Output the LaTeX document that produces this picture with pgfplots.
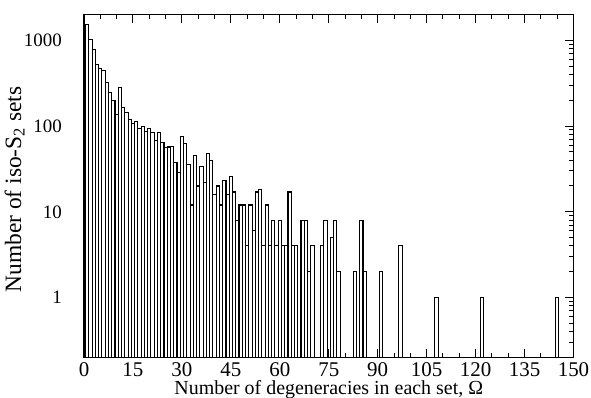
\documentclass[border=0pt]{standalone}
\usepackage{fontspec}
\setmainfont{Liberation Serif}
\usepackage{pgfplots}
\pgfplotsset{compat=1.18}
\begin{document}
\begin{tikzpicture}
\path[use as bounding box] (-84bp,-40.5bp) rectangle (507bp,357.5bp);
\begin{axis}[
  at={(0,0)}, anchor=south west,
  scale only axis, width=489.5bp, height=343bp,
  xmin=0, xmax=150, ymin=0.2, ymax=2000,
  ymode=log, log origin=infty,
  xtick={0,15,...,150}, minor x tick num=2,
  ytick={1,10,100,1000}, yticklabels={1,10,100,1000},
  minor ytick={0.2,0.3,0.4,0.5,0.6,0.7,0.8,0.9,2,3,4,5,6,7,8,9,20,30,40,50,60,70,80,90,200,300,400,500,600,700,800,900},
  tick align=inside, major tick length=9bp, minor tick length=4.5bp,
  axis line style={line width=1.2bp},
  every tick/.style={black, line width=1bp},
  /pgf/number format/assume math mode=true,
  xticklabel style={font=\fontsize{21}{21}\selectfont, inner sep=0pt, yshift=-5bp},
  yticklabel style={font=\fontsize{19}{19}\selectfont, inner sep=0pt, xshift=-22bp},
  xlabel={Number of degeneracies in each set, Ω},
  ylabel={Number of iso-S\textsubscript{2} sets},
  xlabel style={font=\fontsize{20}{20}\selectfont, inner sep=0pt, at={(axis description cs:0.5,-0.1093)}, anchor=base},
  ylabel style={font=\fontsize{23.5}{23.5}\selectfont, inner sep=0pt, at={(axis description cs:-0.1287,0.49)}, anchor=base},
]
\addplot[ybar, bar width=1, bar shift=0pt, draw=black, fill=white, line width=1.1bp] coordinates {
(1,1520) (2,1020) (3,780) (4,521) (5,469) (6,444) (7,322) (8,246) (9,199) (10,136)
(11,281) (12,166) (13,144) (14,119) (15,108) (16,114) (17,94) (18,100) (19,87) (20,94)
(21,84) (22,68) (23,84) (24,64) (25,56) (26,57) (27,58) (28,38) (29,29) (30,75)
(31,62) (32,36) (33,12) (34,45) (35,20) (36,34) (37,22) (38,48) (39,40) (40,16)
(41,20) (42,12) (43,23) (44,16) (45,26) (46,17) (47,8) (48,12) (49,12) (50,4)
(51,12) (52,6) (53,17) (54,18) (55,4) (56,12) (57,4) (58,8) (59,4) (60,8)
(61,4) (62,4) (63,17) (64,4) (65,4) (67,8) (68,8) (69,2) (70,4)
(73,4) (74,8) (76,5) (77,8) (78,2) (83,2) (85,8) (86,2) (91,2) (97,4)
(108,1) (122,1) (145,1)
};
\end{axis}
\end{tikzpicture}
\end{document}
